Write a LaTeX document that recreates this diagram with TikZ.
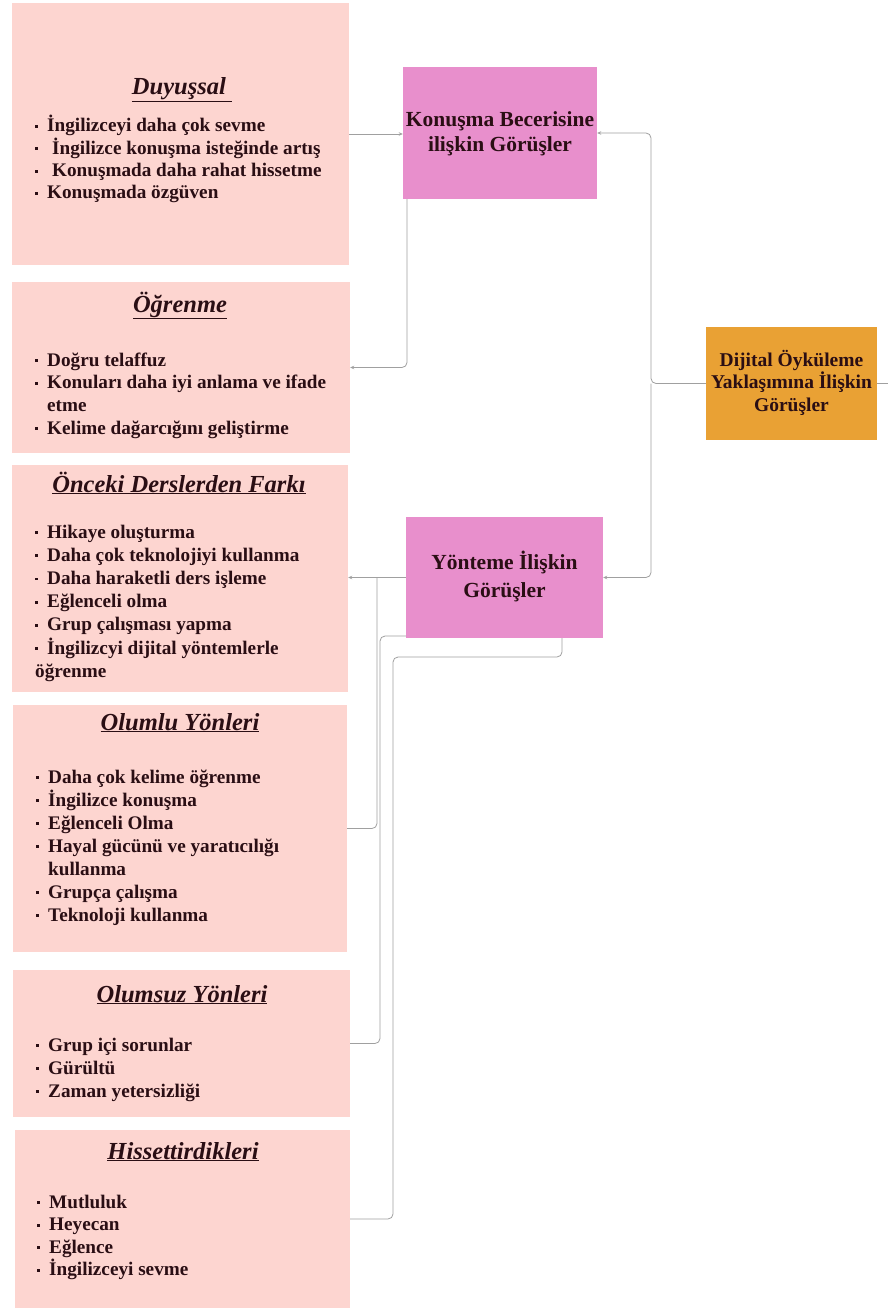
\documentclass[tikz,border=0pt]{standalone}
\usepackage{fontspec}
\setmainfont{Liberation Serif}
\usetikzlibrary{arrows.meta}
\definecolor{lboxc}{RGB}{253,213,208}
\definecolor{pboxc}{RGB}{232,143,204}
\definecolor{oboxc}{RGB}{233,161,52}
\definecolor{txtc}{RGB}{42,14,20}
\definecolor{linec}{RGB}{160,160,160}
\newcommand{\bul}{\makebox[12pt][l]{\raisebox{4pt}{\rule{3.2pt}{2.8pt}}}}
\newcommand{\hang}{\hspace*{12pt}}
\tikzset{
  lbox/.style={draw=none, fill=lboxc, inner sep=0pt},
  pbox/.style={draw=none, fill=pboxc, inner sep=0pt},
  obox/.style={draw=none, fill=oboxc, inner sep=0pt},
  ttl/.style={anchor=base, inner sep=0pt, text=txtc, font=\fontsize{24.5}{27}\selectfont\bfseries\itshape},
  lst/.style={anchor=base west, inner sep=0pt, text=txtc},
  ctext/.style={anchor=base, inner sep=0pt, text=txtc, align=center},
  conn/.style={draw=linec, line width=0.8pt, rounded corners=5pt},
  arr/.style={conn, -{Stealth[length=4pt,width=3.5pt]}}
}
\newcommand{\lstbox}[2]{\parbox[t]{320pt}{\fontsize{19.2}{#1}\selectfont\bfseries\raggedright #2}}
\begin{document}
\begin{tikzpicture}[x=1pt,y=-1pt]
\useasboundingbox (0,0) rectangle (888,1308);
\fill[white] (0,0) rectangle (888,1308);

% left boxes
\node[lbox, minimum width=337pt, minimum height=262pt] (duy) at (180.5,134) {};
\node[lbox, minimum width=338pt, minimum height=171pt] (ogr) at (181,367.5) {};
\node[lbox, minimum width=336pt, minimum height=227pt] (onc) at (180,578.5) {};
\node[lbox, minimum width=334pt, minimum height=247pt] (olm) at (180,828.5) {};
\node[lbox, minimum width=337pt, minimum height=147pt] (olz) at (181.5,1043.5) {};
\node[lbox, minimum width=335pt, minimum height=178pt] (his) at (182.5,1219) {};

% right boxes
\node[pbox, minimum width=194pt, minimum height=132pt] (kon) at (500,133) {};
\node[pbox, minimum width=197pt, minimum height=121pt] (yon) at (504.5,577.5) {};
\node[obox, minimum width=171pt, minimum height=113pt] (dij) at (791.5,383.5) {};

% titles
\node[ttl] (tduy) at (182,95) {\underline{Duyuşsal\ }};
\node[ttl] (togr) at (180,312) {\underline{Öğrenme}};
\node[ttl] (tonc) at (179,492) {\underline{Önceki Derslerden Farkı}};
\node[ttl] (tolm) at (180,730) {\underline{Olumlu Yönleri}};
\node[ttl] (tolz) at (182,1002) {\underline{Olumsuz\ Yönleri}};
\node[ttl] (this) at (183,1159) {\underline{Hissettirdikleri}};

% lists
\node[lst] (lduy) at (35,132) {\lstbox{22.3}{\bul İngilizceyi daha çok sevme\\
\bul\hspace{5pt}İngilizce konuşma isteğinde artış\\
\bul\hspace{5pt}Konuşmada daha rahat hissetme\\
\bul Konuşmada özgüven}};
\node[lst] (logr) at (35,366) {\lstbox{22.7}{\bul Doğru telaffuz\\
\bul Konuları daha iyi anlama ve ifade\\
\hang etme\\
\bul Kelime dağarcığını geliştirme}};
\node[lst] (lonc) at (35,538) {\lstbox{23.2}{\bul Hikaye oluşturma\\
\bul Daha çok teknolojiyi kullanma\\
\bul Daha haraketli ders işleme\\
\bul Eğlenceli olma\\
\bul Grup çalışması yapma\\
\bul İngilizcyi dijital yöntemlerle\\
öğrenme}};
\node[lst] (lolm) at (36,783) {\lstbox{23}{\bul Daha çok kelime öğrenme\\
\bul İngilizce konuşma\\
\bul Eğlenceli Olma\\
\bul Hayal gücünü ve yaratıcılığı\\
\hang kullanma\\
\bul Grupça çalışma\\
\bul Teknoloji kullanma}};
\node[lst] (lolz) at (36,1051) {\lstbox{23}{\bul Grup içi sorunlar\\
\bul Gürültü\\
\bul Zaman yetersizliği}};
\node[lst] (lhis) at (37,1208) {\lstbox{22.5}{\bul Mutluluk\\
\bul Heyecan\\
\bul Eğlence\\
\bul İngilizceyi sevme}};

% centre texts (base = last line)
\node[ctext, font=\fontsize{21.5}{25.5}\selectfont\bfseries] (tkon) at (500,152) {Konuşma Becerisine\\ ilişkin Görüşler};
\node[ctext, font=\fontsize{21.5}{27.5}\selectfont\bfseries] (tyon) at (504.5,597) {Yönteme İlişkin\\ Görüşler};
\node[ctext, font=\fontsize{19.5}{22.5}\selectfont\bfseries] (tdij) at (791.5,411) {Dijital Öyküleme\\ Yaklaşımına İlişkin\\ Görüşler};

% coordinates
\coordinate (jn) at (651,383.5);
\coordinate (rs) at (888,383.5);
\coordinate (k1) at (407,199);
\coordinate (b1) at (377,577.5);
\coordinate (b2) at (406,636);
\coordinate (b2c) at (380,636);
\coordinate (b3) at (562,638);
\coordinate (b3a) at (562,657);
\coordinate (b3b) at (393,657);

% connectors
\draw[arr] (duy.east) -- (duy.east -| kon.west);
\draw[arr] (k1) |- (ogr.east);
\draw[arr] (dij.west) -- (jn) |- (kon.east);
\draw[arr] (jn) |- (yon.east);
\draw[conn] (dij.east) -- (rs);
\draw[arr] (yon.west) -- (yon.west -| onc.east);
\draw[conn] (b1) |- (olm.east);
\draw[conn] (b2) -- (b2c) |- (olz.east);
\draw[conn] (b3) -- (b3a) -- (b3b) |- (his.east);
\end{tikzpicture}
\end{document}
